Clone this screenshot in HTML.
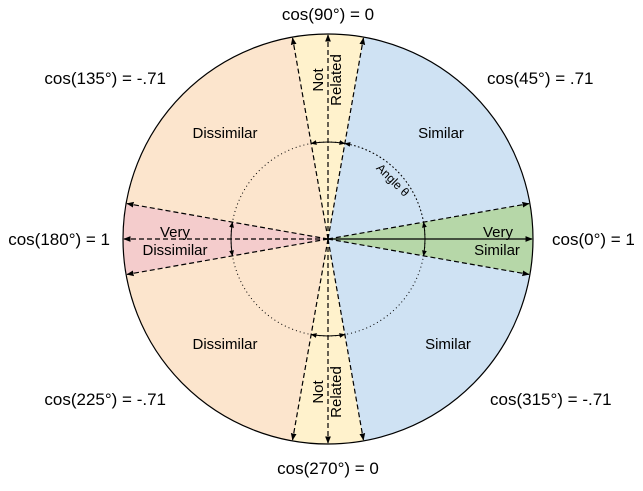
<!DOCTYPE html>
<html><head><meta charset="utf-8"><style>
html,body{margin:0;padding:0;background:#fff;}
svg text{font-family:"Liberation Sans",sans-serif;fill:#000;}
</style></head><body>
<svg id="chart" width="643" height="486" viewBox="0 0 643 486">
<defs>
<marker id="ah" viewBox="0 0 10 10" refX="9" refY="5" markerWidth="6" markerHeight="6" orient="auto-start-reverse"><path d="M0,1 L10,5 L0,9 z" fill="#000"/></marker>
</defs>
<g id="sectors"></g>
<g id="lines"></g>
<g id="labels"></g>
</svg>
<script>
const sectorStarts = [-10, 10, 80, 100, 170, 190, 260, 280];
const sectorEnds   = [10, 80, 100, 170, 190, 260, 280, 350];
const sectorColors = ['#b6d7a8','#cfe2f3','#fff2cc','#fce5cd','#f4cccc','#fce5cd','#fff2cc','#cfe2f3'];
const sectorNames  = ['very-similar','similar-upper','not-related-top','dissimilar-upper','very-dissimilar','dissimilar-lower','not-related-bottom','similar-lower'];
const boundaryAngles = [0, 10, -10, 80, 90, 100, 170, 180, 190, 260, 270, 280];
const cosLabels = ['cos(0°) = 1','cos(45°) = .71','cos(90°) = 0','cos(135°) = -.71','cos(180°) = 1','cos(225°) = -.71','cos(270°) = 0','cos(315°) = -.71'];
const cosAngles = [0,45,90,135,180,225,270,315];

const cx=328, cy=239, R=205, r=97;
const NS='http://www.w3.org/2000/svg';
function pt(a,rad){const t=a*Math.PI/180;return [cx+rad*Math.cos(t), cy-rad*Math.sin(t)];}
function mk(tag,attrs,parent){const e=document.createElementNS(NS,tag);for(const k in attrs)e.setAttribute(k,attrs[k]);parent.appendChild(e);return e;}
const gS=document.getElementById('sectors'), gL=document.getElementById('lines'), gT=document.getElementById('labels');

mk('circle',{cx:cx,cy:cy,r:R,fill:'#fff'},gS);
sectorStarts.forEach((s,i)=>{
  const e=sectorEnds[i];
  const p1=pt(s,R), p2=pt(e,R);
  const el=mk('path',{d:`M${cx},${cy} L${p1[0]},${p1[1]} A${R},${R} 0 0 0 ${p2[0]},${p2[1]} Z`,fill:sectorColors[i]},gS);
  
  
});
const outer=mk('circle',{cx:cx,cy:cy,r:R,fill:'none',stroke:'#000','stroke-width':1.2},gL);


const inner=mk('circle',{cx:cx,cy:cy,r:r,fill:'none',stroke:'#000','stroke-width':1,'stroke-dasharray':'1 3'},gL);



boundaryAngles.forEach(a=>{
  const p=pt(a,R-1);
  const ln=mk('line',{x1:cx,y1:cy,x2:p[0],y2:p[1],stroke:'#000','stroke-width':1.2,'stroke-dasharray':a===0?'none':'5 3','marker-end':'url(#ah)'},gL);
  
  
});
const arcPairs=[[0,10],[0,-10],[90,80],[90,100],[180,170],[180,190],[270,260],[270,280],[10,80]];
arcPairs.forEach(([a,b])=>{
  const p1=pt(a,r), p2=pt(b,r);
  const sweep = b>a ? 0 : 1;
  const large = Math.abs(b-a)>180?1:0;
  const arc=mk('path',{d:`M${p1[0]},${p1[1]} A${r},${r} 0 ${large} ${sweep} ${p2[0]},${p2[1]}`,fill:'none',stroke:'#000','stroke-width':1,'stroke-dasharray':(a===10&&b===80)?'1 3':'none','marker-end':'url(#ah)'},gL);
  
  
});

// label anchor positions relative to the angle (layout, not data)
const cosPos = {0:[552,245,'start'],45:[487,84,'start'],90:[328,20,'middle'],135:[166,84,'end'],180:[110,245,'end'],225:[166,405,'end'],270:[328,474,'middle'],315:[490,405,'start']};
cosLabels.forEach((t,i)=>{
  const a=cosAngles[i];
  const p=cosPos[a];
  const tx=mk('text',{x:p[0],y:p[1],'text-anchor':p[2],'font-size':17},gT);
  tx.textContent=t;
  
  
});
function lab(t,x,y,name,rot){
  const tx=mk('text',{x:x,y:y,'text-anchor':'middle','font-size':15},gT);
  if(rot)tx.setAttribute('transform',`rotate(${rot} ${x} ${y})`);
  tx.textContent=t;
  
  
}
lab('Similar',441,138,'label-similar-upper');
lab('Similar',448,349,'label-similar-lower');
lab('Dissimilar',225,138,'label-dissimilar-upper');
lab('Dissimilar',225,349,'label-dissimilar-lower');
lab('Very',498,237,'label-very-similar-1');
lab('Similar',497,255,'label-very-similar-2');
lab('Very',175,237,'label-very-dissimilar-1');
lab('Dissimilar',175,255,'label-very-dissimilar-2');
lab('Not',323,80,'label-not-related-top-1',-90);
lab('Related',341,80,'label-not-related-top-2',-90);
lab('Not',323,392,'label-not-related-bottom-1',-90);
lab('Related',341,392,'label-not-related-bottom-2',-90);
const at=mk('text',{x:390,y:183,'text-anchor':'middle','font-size':12,transform:'rotate(45 390 183)'},gT);
at.textContent='Angle θ';


</script>
</body></html>
